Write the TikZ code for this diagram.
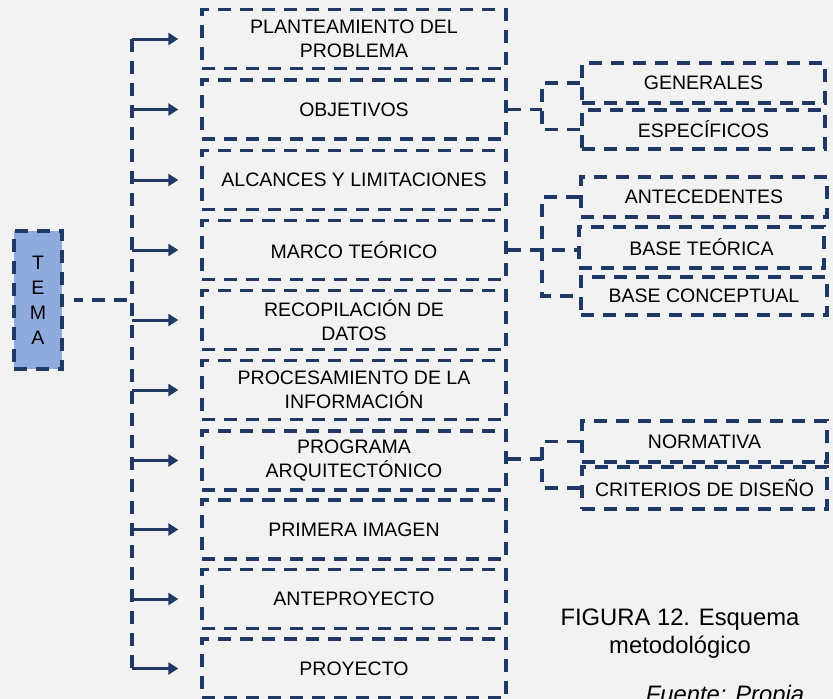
\documentclass[tikz,border=0pt]{standalone}
\usepackage{fontspec}
\setmainfont{Liberation Sans}
\usetikzlibrary{arrows.meta,calc}
\definecolor{navy}{RGB}{31,56,100}
\definecolor{bgc}{RGB}{242,242,242}
\definecolor{temafill}{RGB}{143,170,220}
\tikzset{
  dline/.style={draw=navy,line width=3.4pt,dash pattern=on 13pt off 9pt},
  mainbox/.style={dline,minimum width=304pt,minimum height=59pt,inner sep=0pt,align=center,
    font=\fontsize{19.5}{24}\selectfont},
  subbox/.style={dline,minimum width=244pt,minimum height=40pt,inner sep=0pt,align=center,
    font=\fontsize{19.5}{24}\selectfont},
  arr/.style={draw=navy,line width=3pt,-{Triangle[length=10pt,width=12pt]}},
}
\begin{document}
\begin{tikzpicture}[x=1pt,y=-1pt]
\fill[bgc] (0,0) rectangle (833,699);
\useasboundingbox (0,0) rectangle (833,699);
% main boxes
\node[mainbox] (b1) at (354,39) {PLANTEAMIENTO DEL\\PROBLEMA};
\node[mainbox] (b2) at (354,109.5) {OBJETIVOS};
\node[mainbox] (b3) at (354,180) {ALCANCES Y LIMITACIONES};
\node[mainbox] (b4) at (354,250) {MARCO TEÓRICO};
\node[mainbox] (b5) at (354,320) {RECOPILACIÓN DE\\DATOS};
\node[mainbox] (b6) at (354,390) {PROCESAMIENTO DE LA\\INFORMACIÓN};
\node[mainbox] (b7) at (354,460.5) {PROGRAMA\\ARQUITECTÓNICO};
\node[mainbox] (b8) at (354,529.5) {PRIMERA IMAGEN};
\node[mainbox] (b9) at (354,599) {ANTEPROYECTO};
\node[mainbox] (b10) at (354,668.5) {PROYECTO};
% tema
\node[dline,fill=temafill,minimum width=48pt,minimum height=138pt,inner sep=0pt,align=center,
  font=\fontsize{19.5}{25}\selectfont] (tema) at (38,300) {T\\E\\M\\A};
% left bracket
\coordinate (lb) at (132,0);
\draw[dline] (b1.west -| lb) -- (b10.west -| lb);
\draw[dline,dash phase=4pt] ([xshift=10pt]tema.east) -- (tema.east -| lb);
\foreach \i in {1,...,10}{
  \draw[arr] (b\i.west -| lb) -- ([xshift=-22pt]b\i.west);
}
% sub boxes
\node[subbox,minimum width=243pt] (gen) at (703.5,83) {GENERALES};
\node[subbox,minimum width=243pt,minimum height=39pt] (esp) at (703.5,129.5) {ESPECÍFICOS};
\node[subbox,minimum width=246pt] (ant) at (704,197) {ANTECEDENTES};
\node[subbox,minimum width=245pt,minimum height=41pt] (bt) at (701.5,247.5) {BASE TEÓRICA};
\node[subbox,minimum width=246pt,minimum height=38pt] (bc) at (704,296) {BASE CONCEPTUAL};
\node[subbox,minimum width=245pt,minimum height=41pt] (nor) at (704.5,441.5) {NORMATIVA};
\node[subbox,minimum width=245pt,minimum height=42pt] (cri) at (704.5,488) {CRITERIOS DE DISEÑO};
% right brackets
\coordinate (rb) at (542,0);
\draw[dline] (b2.east) -- (b2.east -| rb);
\draw[dline] (gen.west) -- (gen.west -| rb) -- (esp.west -| rb) -- (esp.west);
\draw[dline] (b4.east) -- (b4.east -| bt.west);
\draw[dline] (ant.west) -- (ant.west -| rb) -- (bc.west -| rb) -- (bc.west);
\draw[dline] ([yshift=1.5pt]b7.east) -- ([yshift=1.5pt]b7.east -| rb);
\draw[dline] (nor.west) -- (nor.west -| rb) -- (cri.west -| rb) -- (cri.west);
% caption
\node[align=center,font=\fontsize{23.8}{28}\selectfont] (cap) at (680,634) {FIGURA 12. Esquema\\metodológico};
\node[anchor=base,font=\fontsize{23.8}{28}\selectfont\itshape] (src) at (725,702) {Fuente: Propia};
\end{tikzpicture}
\end{document}
